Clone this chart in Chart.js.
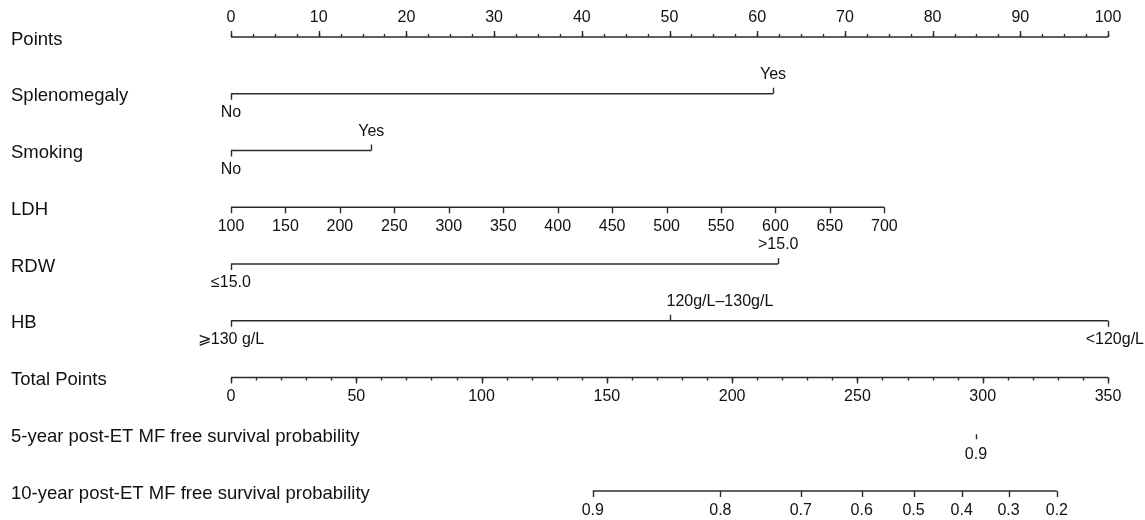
<!DOCTYPE html>
<html>
<head>
<meta charset="utf-8">
<script src="https://cdn.jsdelivr.net/npm/chart.js@4.4.1/dist/chart.umd.min.js"></script>
<style>
  html, body { margin: 0; padding: 0; background: #fff; }
  #wrap { width: 1145px; height: 520px; }
</style>
</head>
<body>
<div id="wrap"><canvas id="nomo" width="1145" height="520"></canvas></div>
<script>
"use strict";

// row titles, top to bottom
const rowTitles = ['Points', 'Splenomegaly', 'Smoking', 'LDH', 'RDW', 'HB', 'Total Points',
    '5-year post-ET MF free survival probability', '10-year post-ET MF free survival probability'];

// points scale
const pointsMax = 100;
const pointsMajor = [0, 10, 20, 30, 40, 50, 60, 70, 80, 90, 100];
const pointsMinorStep = 2.5;

// categorical predictors (value on the points scale)
const splenoLabels = ['No', 'Yes'];
const splenoPoints = [0, 61.8];
const smokingLabels = ['No', 'Yes'];
const smokingPoints = [0, 16];
const rdwLabels = ['≤15.0', '>15.0'];
const rdwPoints = [0, 62.4];
const hbLabels = ['⩾130 g/L', '120g/L–130g/L', '<120g/L'];
const hbPoints = [0, 50, 100];

// LDH continuous axis
const ldhTicks = [100, 150, 200, 250, 300, 350, 400, 450, 500, 550, 600, 650, 700];
const ldhPointsAtMax = 74.5;   // points given to LDH = 700

// total points
const totalMax = 350;
const totalMajor = [0, 50, 100, 150, 200, 250, 300, 350];
const totalMinorStep = 10;

// survival axes (position on total points)
const surv5Labels = ['0.9'];
const surv5Total = [297.3];
const surv10Labels = ['0.9', '0.8', '0.7', '0.6', '0.5', '0.4', '0.3', '0.2'];
const surv10Total = [144.4, 195.3, 227.4, 251.7, 272.4, 291.6, 310.3, 329.6];

const lineColor = '#2b2b2b';
const textColor = '#111';
const FONT = '"Liberation Sans", Arial, Helvetica, sans-serif';

function ldhToPoints(v) {
    return (v - ldhTicks[0]) * ldhPointsAtMax / (ldhTicks[ldhTicks.length - 1] - ldhTicks[0]);
}
function totalToPoints(t) {
    return t * pointsMax / totalMax;
}

function seg(row, a, b) {
    return { data: [{ x: a, y: row }, { x: b, y: row }] };
}

const lines = [
    seg(0, 0, pointsMax),
    seg(1, splenoPoints[0], splenoPoints[splenoPoints.length - 1]),
    seg(2, smokingPoints[0], smokingPoints[smokingPoints.length - 1]),
    seg(3, ldhToPoints(ldhTicks[0]), ldhToPoints(ldhTicks[ldhTicks.length - 1])),
    seg(4, rdwPoints[0], rdwPoints[rdwPoints.length - 1]),
    seg(5, hbPoints[0], hbPoints[hbPoints.length - 1]),
    seg(6, 0, totalToPoints(totalMax)),
    seg(8, totalToPoints(surv10Total[0]), totalToPoints(surv10Total[surv10Total.length - 1]))
].map(function (d) {
    d.borderColor = lineColor;
    d.borderWidth = 1.4;
    d.pointRadius = 0;
    d.clip = false;
    d.tension = 0;
    return d;
});

const nomoPlugin = {
    id: 'nomo',
    afterDatasetsDraw(chart) {
        const ctx = chart.ctx;
        const xs = chart.scales.x;
        const ys = chart.scales.y;
        const px = v => xs.getPixelForValue(v);
        const py = r => ys.getPixelForValue(r);

        ctx.save();
        ctx.strokeStyle = lineColor;
        ctx.lineWidth = 1.4;
        ctx.fillStyle = textColor;
        ctx.textBaseline = 'middle';

        function tick(x, y, len) {
            ctx.beginPath();
            ctx.moveTo(Math.round(x) + 0.5, y);
            ctx.lineTo(Math.round(x) + 0.5, y + len);
            ctx.stroke();
        }
        function label(txt, x, y, align) {
            ctx.textAlign = align || 'center';
            ctx.fillText(txt, x, y);
        }

        // row titles
        ctx.font = '18.5px ' + FONT;
        rowTitles.forEach(function (t, i) {
            label(t, 11, py(i) + 2.5, 'left');
        });

        ctx.font = '16px ' + FONT;

        // Points
        let y = py(0);
        for (let v = 0; v <= pointsMax + 0.001; v += pointsMinorStep) tick(px(v), y, -3);
        pointsMajor.forEach(function (v) {
            tick(px(v), y, -6);
            label(String(v), px(v), y - 19);
        });

        // categorical rows
        function cats(row, labels, pts) {
            const yy = py(row);
            labels.forEach(function (t, i) {
                const up = i % 2 === 1;
                const x = px(pts[i]);
                tick(x, yy, up ? -6 : 6);
                let align = 'center';
                let lx = x;
                if (up && i > 0 && i < labels.length - 1) { align = 'left'; lx = x - 3; }
                if (i === labels.length - 1 && i > 1) { align = 'right'; lx = chart.width - 1; }
                label(t, lx, yy + (up ? -19 : 19), align);
            });
        }
        cats(1, splenoLabels, splenoPoints);
        cats(2, smokingLabels, smokingPoints);
        cats(4, rdwLabels, rdwPoints);
        cats(5, hbLabels, hbPoints);

        // LDH
        y = py(3);
        ldhTicks.forEach(function (v) {
            const x = px(ldhToPoints(v));
            tick(x, y, 6);
            label(String(v), x, y + 19);
        });

        // Total points
        y = py(6);
        for (let t = 0; t <= totalMax + 0.001; t += totalMinorStep) tick(px(totalToPoints(t)), y, 3);
        totalMajor.forEach(function (t) {
            const x = px(totalToPoints(t));
            tick(x, y, 6);
            label(String(t), x, y + 19);
        });

        // 5-year
        y = py(7);
        surv5Total.forEach(function (t, i) {
            const x = px(totalToPoints(t));
            tick(x, y, 5);
            label(surv5Labels[i], x, y + 20);
        });

        // 10-year
        y = py(8);
        surv10Total.forEach(function (t, i) {
            const x = px(totalToPoints(t));
            tick(x, y, 6);
            label(surv10Labels[i], x, y + 20);
        });

        ctx.restore();
    }
};

new Chart(document.getElementById('nomo'), {
    type: 'line',
    data: { datasets: lines },
    options: {
        responsive: false,
        animation: false,
        devicePixelRatio: 1,
        layout: { padding: { left: 231, right: 37, top: 37, bottom: 29 } },
        scales: {
            x: { type: 'linear', min: 0, max: pointsMax, display: false },
            y: { type: 'linear', min: 0, max: 8, reverse: true, display: false }
        },
        plugins: { legend: { display: false }, tooltip: { enabled: false } },
        events: []
    },
    plugins: [nomoPlugin]
});
</script>
</body>
</html>
